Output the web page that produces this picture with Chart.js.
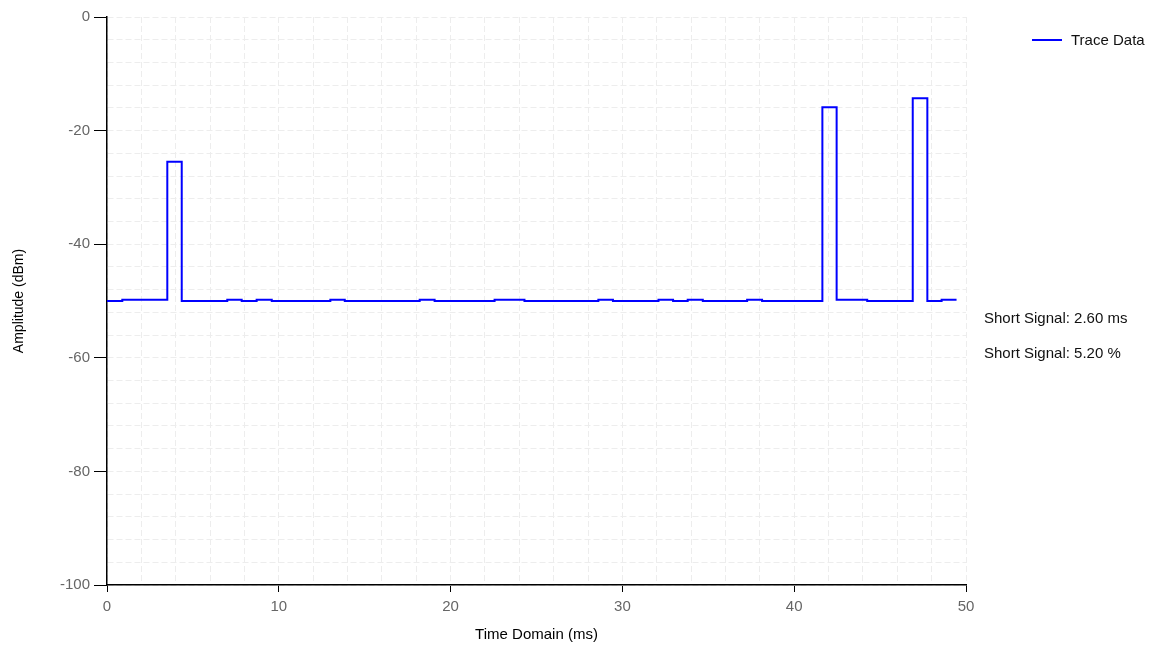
<!DOCTYPE html>
<html>
<head>
<meta charset="utf-8">
<script src="https://cdn.jsdelivr.net/npm/chart.js@4"></script>
<style>
  html, body { margin: 0; padding: 0; background: #fff; }
  #wrap { position: relative; width: 1161px; height: 648px; }
</style>
</head>
<body>
<div id="wrap"><canvas id="trace-chart" width="1161" height="648"></canvas></div>
<script>
// step start times (ms) and the level held from each one (dBm)
var stepTimes = [0, 0.89, 3.51, 4.35, 7.0, 7.84, 8.71, 9.59, 13.0, 13.84, 18.2, 19.07,
    22.56, 24.3, 28.6, 29.45, 32.1, 32.95, 33.8, 34.68, 37.26, 38.13, 41.64, 42.47,
    44.25, 46.9, 47.75, 48.58, 49.45];
var stepLevels = [-50, -49.8, -25.5, -50, -49.8, -50, -49.8, -50, -49.8, -50, -49.8, -50,
    -49.8, -50, -49.8, -50, -49.8, -50, -49.8, -50, -49.8, -50, -15.9, -49.8,
    -50, -14.3, -50, -49.8, -49.8];
var infoLines = ["Short Signal: 2.60 ms", "Short Signal: 5.20 %"];
var seriesName = "Trace Data";

var points = stepTimes.map(function (t, i) { return { x: t, y: stepLevels[i] }; });
var font = "'Liberation Sans', Arial, sans-serif";

var sidePanel = {
    id: 'sidePanel',
    afterDraw: function (chart) {
        var ctx = chart.ctx;
        ctx.save();
        ctx.strokeStyle = '#0000ff';
        ctx.lineWidth = 2;
        ctx.beginPath();
        ctx.moveTo(1032, 40);
        ctx.lineTo(1062, 40);
        ctx.stroke();
        ctx.fillStyle = '#111';
        ctx.font = "15px " + font;
        ctx.textBaseline = 'middle';
        ctx.fillText(seriesName, 1071, 41);
        ctx.fillText(infoLines[0], 984, 319);
        ctx.fillText(infoLines[1], 984, 354);
        ctx.restore();
    }
};

new Chart(document.getElementById("trace-chart"), {
    type: 'line',
    data: {
        datasets: [{
            label: seriesName,
            data: points,
            borderColor: "#0000ff",
            borderWidth: 2,
            pointRadius: 0,
            stepped: true,
            fill: false
        }]
    },
    options: {
        responsive: false,
        animation: false,
        layout: { padding: { top: 17, right: 195, left: 0, bottom: 0 } },
        plugins: {
            legend: { display: false },
            tooltip: { enabled: false }
        },
        scales: {
            x: {
                type: 'linear',
                min: 0,
                max: 50,
                afterFit: function (s) { s.height = 63; },
                ticks: {
                    stepSize: 2,
                    autoSkip: false,
                    maxRotation: 0,
                    padding: 6,
                    color: '#666',
                    font: { family: font, size: 15 },
                    callback: function (v) { return v % 10 === 0 ? v : ''; }
                },
                grid: {
                    color: '#ededed',
                    tickLength: 7,
                    tickColor: function (c) { return c.tick && c.tick.value % 10 === 0 ? '#000' : 'rgba(0,0,0,0)'; }
                },
                border: { color: '#000', width: 1.5, dash: [6, 3] },
                title: {
                    display: true,
                    text: 'Time Domain (ms)',
                    color: '#000',
                    font: { family: font, size: 15 },
                    padding: { top: 4, bottom: 4 }
                }
            },
            y: {
                min: -100,
                max: 0,
                afterFit: function (s) { s.width = 107; },
                ticks: {
                    stepSize: 4,
                    autoSkip: false,
                    padding: 4,
                    color: '#666',
                    font: { family: font, size: 15 },
                    callback: function (v) { return v % 20 === 0 ? v : ''; }
                },
                grid: {
                    color: '#ededed',
                    tickLength: 13,
                    tickColor: function (c) { return c.tick && c.tick.value % 20 === 0 ? '#000' : 'rgba(0,0,0,0)'; }
                },
                border: { color: '#000', width: 1.5, dash: [6, 3] },
                title: {
                    display: true,
                    text: 'Amplitude (dBm)',
                    color: '#000',
                    font: { family: font, size: 14 },
                    padding: { top: 11, bottom: 4 }
                }
            }
        }
    },
    plugins: [sidePanel]
});
</script>
</body>
</html>
